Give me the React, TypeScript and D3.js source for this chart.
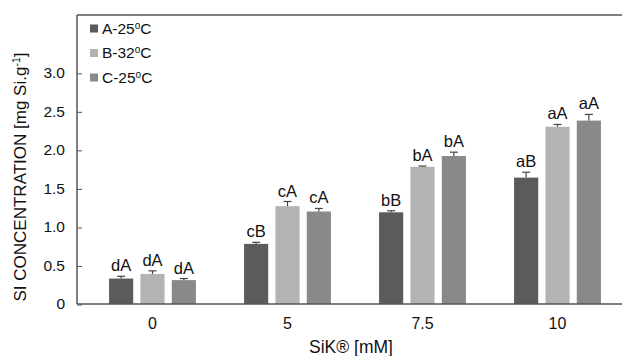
import React from "react";
import * as d3 from "d3";

const categories = ["0", "5", "7.5", "10"];
const seriesNames = ["A-25", "B-32", "C-25"];
const seriesA = [0.33, 0.78, 1.19, 1.64];
const seriesB = [0.39, 1.27, 1.78, 2.3];
const seriesC = [0.31, 1.2, 1.92, 2.38];
const errA = [0.03, 0.02, 0.02, 0.07];
const errB = [0.04, 0.06, 0.01, 0.03];
const errC = [0.02, 0.04, 0.05, 0.08];
const lettersA = ["dA", "cB", "bB", "aB"];
const lettersB = ["dA", "cA", "bA", "aA"];
const lettersC = ["dA", "cA", "bA", "aA"];
const yTicks = [0, 0.5, 1.0, 1.5, 2.0, 2.5, 3.0];
const colors = ["#5b5b5b", "#b3b3b3", "#898989"];

const W = 622, H = 356;
const left = 77, right = 622, top = 15, bottom = 304;
const font = "Liberation Sans, Arial, sans-serif";

export default function App() {
  const x = d3.scaleBand<string>().domain(categories).range([85, 625]).paddingInner(0).paddingOuter(0);
  const y = d3.scaleLinear().domain([0, 3.75]).range([bottom, top]);
  const inner = d3.scaleBand<number>().domain([0, 1, 2]).range([-45, 45]).paddingInner(0.23).paddingOuter(0.05);
  const vals = [seriesA, seriesB, seriesC];
  const errs = [errA, errB, errC];
  const letters = [lettersA, lettersB, lettersC];
  const axisColor = "#555";

  return (
    <svg width={W} height={H} style={{ position: "absolute", left: 0, top: 0 }} fontFamily={font}>
      <rect width={W} height={H} fill="#fff" />
      {categories.map((c, ci) =>
        vals.map((s, si) => {
          const cx = (x(c) as number) + x.bandwidth() / 2;
          const bx = cx + (inner(si) as number);
          const bw = inner.bandwidth();
          const v = s[ci];
          const e = errs[si][ci];
          const mid = bx + bw / 2;
          return (
            <g key={c + si}>
              <rect x={bx} y={y(v)} width={bw} height={y(0) - y(v)} fill={colors[si]} />
              <line x1={mid} x2={mid} y1={y(v)} y2={y(v + e)} stroke="#444" strokeWidth={1.2} />
              <line x1={mid - 4} x2={mid + 4} y1={y(v + e)} y2={y(v + e)} stroke="#444" strokeWidth={1.2} />
              <text x={mid} y={y(v + e) - 5} textAnchor="middle" fontSize={16.5} fill="#111">
                {letters[si][ci]}
              </text>
            </g>
          );
        })
      )}
      <line x1={left} x2={right} y1={top} y2={top} stroke={axisColor} strokeWidth={1.5} />
      <line x1={left} x2={left} y1={top} y2={bottom} stroke={axisColor} strokeWidth={1.5} />
      <line x1={left} x2={right} y1={bottom} y2={bottom} stroke={axisColor} strokeWidth={1.5} />
      {yTicks.map((t) => (
        <g key={t}>
          <line x1={left} x2={left + 5} y1={y(t) + 1} y2={y(t) + 1} stroke={axisColor} strokeWidth={1} />
          <text x={65} y={y(t)} dy="0.35em" textAnchor="end" fontSize={15.5} fill="#111">
            {t === 0 ? "0" : t.toFixed(1)}
          </text>
        </g>
      ))}
      {categories.map((c) => (
        <text key={c} x={(x(c) as number) + x.bandwidth() / 2} y={329} textAnchor="middle" fontSize={16} fill="#111">
          {c}
        </text>
      ))}
      <text x={351} y={353} textAnchor="middle" fontSize={17.5} fill="#111">SiK® [mM]</text>
      <text transform="translate(26,177) rotate(-90)" textAnchor="middle" fontSize={17} fill="#111">
        SI CONCENTRATION [mg Si.g<tspan dy={-6} fontSize={10.5}>-1</tspan><tspan dy={6}>]</tspan>
      </text>
      {seriesNames.map((n, i) => (
        <g key={n} transform={`translate(90, ${28.5 + i * 24.5})`}>
          <rect x={0} y={-4} width={8} height={8} fill={colors[i]} />
          <text x={12} y={0} dy="0.35em" fontSize={15.5} fill="#111">
            {n}<tspan dy={-5} fontSize={10}>o</tspan><tspan dy={5}>C</tspan>
          </text>
        </g>
      ))}
    </svg>
  );
}
